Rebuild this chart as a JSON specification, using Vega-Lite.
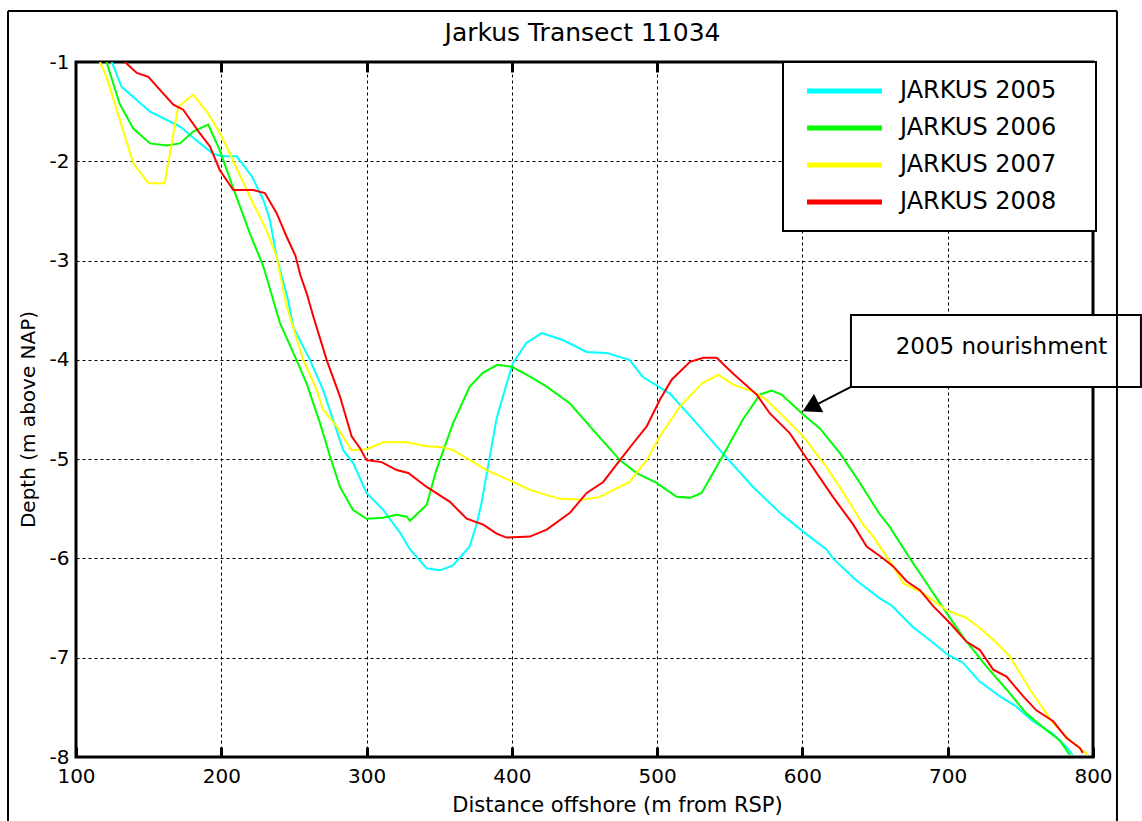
{
  "$schema": "https://vega.github.io/schema/vega-lite/v6.json",
  "width": 1017,
  "height": 695,
  "autosize": {"type": "none"},
  "padding": {"left": 76, "top": 62, "right": 49, "bottom": 64},
  "background": "white",
  "config": {
    "font": "DejaVu Sans",
    "view": {"stroke": "black", "strokeWidth": 3},
    "axis": {
      "labelFont": "DejaVu Sans",
      "titleFont": "DejaVu Sans",
      "labelColor": "black",
      "titleColor": "black",
      "labelFontSize": 20,
      "titleFontSize": 20,
      "titleFontWeight": "normal",
      "gridColor": "black",
      "gridDash": [3, 3],
      "gridOpacity": 1,
      "gridWidth": 1,
      "domain": false
    }
  },
  "datasets": {
    "profiles": [
      {"year": "JARKUS 2005", "x": 124.6, "y": -1.0},
      {"year": "JARKUS 2005", "x": 131.4, "y": -1.25},
      {"year": "JARKUS 2005", "x": 151.0, "y": -1.5},
      {"year": "JARKUS 2005", "x": 171.6, "y": -1.65},
      {"year": "JARKUS 2005", "x": 183.0, "y": -1.79},
      {"year": "JARKUS 2005", "x": 194.0, "y": -1.92},
      {"year": "JARKUS 2005", "x": 200.0, "y": -1.95},
      {"year": "JARKUS 2005", "x": 210.6, "y": -1.95},
      {"year": "JARKUS 2005", "x": 221.0, "y": -2.15},
      {"year": "JARKUS 2005", "x": 229.0, "y": -2.39},
      {"year": "JARKUS 2005", "x": 233.5, "y": -2.59},
      {"year": "JARKUS 2005", "x": 238.0, "y": -2.96},
      {"year": "JARKUS 2005", "x": 246.0, "y": -3.4},
      {"year": "JARKUS 2005", "x": 249.6, "y": -3.67},
      {"year": "JARKUS 2005", "x": 261.0, "y": -4.0},
      {"year": "JARKUS 2005", "x": 270.0, "y": -4.3},
      {"year": "JARKUS 2005", "x": 279.4, "y": -4.71},
      {"year": "JARKUS 2005", "x": 283.9, "y": -4.91},
      {"year": "JARKUS 2005", "x": 290.8, "y": -5.04},
      {"year": "JARKUS 2005", "x": 300.0, "y": -5.34},
      {"year": "JARKUS 2005", "x": 311.4, "y": -5.51},
      {"year": "JARKUS 2005", "x": 323.0, "y": -5.74},
      {"year": "JARKUS 2005", "x": 329.9, "y": -5.91},
      {"year": "JARKUS 2005", "x": 341.4, "y": -6.1},
      {"year": "JARKUS 2005", "x": 350.5, "y": -6.12},
      {"year": "JARKUS 2005", "x": 359.5, "y": -6.07},
      {"year": "JARKUS 2005", "x": 371.0, "y": -5.88},
      {"year": "JARKUS 2005", "x": 375.8, "y": -5.65},
      {"year": "JARKUS 2005", "x": 379.0, "y": -5.45},
      {"year": "JARKUS 2005", "x": 389.5, "y": -4.59},
      {"year": "JARKUS 2005", "x": 396.4, "y": -4.24},
      {"year": "JARKUS 2005", "x": 400.8, "y": -4.03},
      {"year": "JARKUS 2005", "x": 410.0, "y": -3.83},
      {"year": "JARKUS 2005", "x": 420.5, "y": -3.73},
      {"year": "JARKUS 2005", "x": 435.0, "y": -3.8},
      {"year": "JARKUS 2005", "x": 451.5, "y": -3.92},
      {"year": "JARKUS 2005", "x": 465.0, "y": -3.93},
      {"year": "JARKUS 2005", "x": 481.0, "y": -4.0},
      {"year": "JARKUS 2005", "x": 490.0, "y": -4.17},
      {"year": "JARKUS 2005", "x": 508.8, "y": -4.34},
      {"year": "JARKUS 2005", "x": 524.8, "y": -4.6},
      {"year": "JARKUS 2005", "x": 545.0, "y": -4.94},
      {"year": "JARKUS 2005", "x": 566.0, "y": -5.28},
      {"year": "JARKUS 2005", "x": 584.5, "y": -5.54},
      {"year": "JARKUS 2005", "x": 600.5, "y": -5.73},
      {"year": "JARKUS 2005", "x": 616.6, "y": -5.91},
      {"year": "JARKUS 2005", "x": 621.0, "y": -6.0},
      {"year": "JARKUS 2005", "x": 637.0, "y": -6.22},
      {"year": "JARKUS 2005", "x": 653.0, "y": -6.4},
      {"year": "JARKUS 2005", "x": 661.0, "y": -6.47},
      {"year": "JARKUS 2005", "x": 676.0, "y": -6.69},
      {"year": "JARKUS 2005", "x": 690.0, "y": -6.85},
      {"year": "JARKUS 2005", "x": 700.0, "y": -6.97},
      {"year": "JARKUS 2005", "x": 710.5, "y": -7.05},
      {"year": "JARKUS 2005", "x": 722.0, "y": -7.24},
      {"year": "JARKUS 2005", "x": 736.0, "y": -7.39},
      {"year": "JARKUS 2005", "x": 747.0, "y": -7.49},
      {"year": "JARKUS 2005", "x": 758.6, "y": -7.64},
      {"year": "JARKUS 2005", "x": 772.0, "y": -7.76},
      {"year": "JARKUS 2005", "x": 781.8, "y": -7.9},
      {"year": "JARKUS 2005", "x": 786.0, "y": -7.98},

      {"year": "JARKUS 2006", "x": 121.0, "y": -1.0},
      {"year": "JARKUS 2006", "x": 130.0, "y": -1.42},
      {"year": "JARKUS 2006", "x": 139.4, "y": -1.67},
      {"year": "JARKUS 2006", "x": 151.0, "y": -1.82},
      {"year": "JARKUS 2006", "x": 162.4, "y": -1.84},
      {"year": "JARKUS 2006", "x": 171.6, "y": -1.82},
      {"year": "JARKUS 2006", "x": 180.7, "y": -1.7},
      {"year": "JARKUS 2006", "x": 191.0, "y": -1.63},
      {"year": "JARKUS 2006", "x": 199.0, "y": -1.89},
      {"year": "JARKUS 2006", "x": 208.0, "y": -2.26},
      {"year": "JARKUS 2006", "x": 219.8, "y": -2.73},
      {"year": "JARKUS 2006", "x": 229.0, "y": -3.06},
      {"year": "JARKUS 2006", "x": 235.8, "y": -3.4},
      {"year": "JARKUS 2006", "x": 240.4, "y": -3.63},
      {"year": "JARKUS 2006", "x": 249.6, "y": -3.93},
      {"year": "JARKUS 2006", "x": 258.8, "y": -4.24},
      {"year": "JARKUS 2006", "x": 268.0, "y": -4.64},
      {"year": "JARKUS 2006", "x": 274.8, "y": -4.97},
      {"year": "JARKUS 2006", "x": 281.7, "y": -5.28},
      {"year": "JARKUS 2006", "x": 290.6, "y": -5.51},
      {"year": "JARKUS 2006", "x": 300.0, "y": -5.6},
      {"year": "JARKUS 2006", "x": 311.4, "y": -5.59},
      {"year": "JARKUS 2006", "x": 320.7, "y": -5.56},
      {"year": "JARKUS 2006", "x": 327.6, "y": -5.58},
      {"year": "JARKUS 2006", "x": 329.9, "y": -5.62},
      {"year": "JARKUS 2006", "x": 341.4, "y": -5.46},
      {"year": "JARKUS 2006", "x": 348.0, "y": -5.11},
      {"year": "JARKUS 2006", "x": 359.5, "y": -4.64},
      {"year": "JARKUS 2006", "x": 371.0, "y": -4.27},
      {"year": "JARKUS 2006", "x": 380.0, "y": -4.13},
      {"year": "JARKUS 2006", "x": 390.0, "y": -4.05},
      {"year": "JARKUS 2006", "x": 400.0, "y": -4.07},
      {"year": "JARKUS 2006", "x": 412.5, "y": -4.17},
      {"year": "JARKUS 2006", "x": 424.0, "y": -4.27},
      {"year": "JARKUS 2006", "x": 440.0, "y": -4.44},
      {"year": "JARKUS 2006", "x": 458.0, "y": -4.74},
      {"year": "JARKUS 2006", "x": 474.4, "y": -5.01},
      {"year": "JARKUS 2006", "x": 485.9, "y": -5.14},
      {"year": "JARKUS 2006", "x": 499.6, "y": -5.24},
      {"year": "JARKUS 2006", "x": 513.4, "y": -5.38},
      {"year": "JARKUS 2006", "x": 522.6, "y": -5.39},
      {"year": "JARKUS 2006", "x": 530.6, "y": -5.34},
      {"year": "JARKUS 2006", "x": 545.4, "y": -4.96},
      {"year": "JARKUS 2006", "x": 559.0, "y": -4.6},
      {"year": "JARKUS 2006", "x": 570.7, "y": -4.35},
      {"year": "JARKUS 2006", "x": 578.8, "y": -4.31},
      {"year": "JARKUS 2006", "x": 585.7, "y": -4.35},
      {"year": "JARKUS 2006", "x": 600.5, "y": -4.55},
      {"year": "JARKUS 2006", "x": 612.0, "y": -4.69},
      {"year": "JARKUS 2006", "x": 625.8, "y": -4.94},
      {"year": "JARKUS 2006", "x": 639.6, "y": -5.24},
      {"year": "JARKUS 2006", "x": 653.0, "y": -5.55},
      {"year": "JARKUS 2006", "x": 660.0, "y": -5.68},
      {"year": "JARKUS 2006", "x": 674.0, "y": -6.0},
      {"year": "JARKUS 2006", "x": 685.5, "y": -6.25},
      {"year": "JARKUS 2006", "x": 694.6, "y": -6.45},
      {"year": "JARKUS 2006", "x": 710.5, "y": -6.79},
      {"year": "JARKUS 2006", "x": 726.7, "y": -7.09},
      {"year": "JARKUS 2006", "x": 740.5, "y": -7.32},
      {"year": "JARKUS 2006", "x": 754.0, "y": -7.56},
      {"year": "JARKUS 2006", "x": 768.0, "y": -7.73},
      {"year": "JARKUS 2006", "x": 777.0, "y": -7.83},
      {"year": "JARKUS 2006", "x": 784.0, "y": -7.98},

      {"year": "JARKUS 2007", "x": 116.5, "y": -1.0},
      {"year": "JARKUS 2007", "x": 121.0, "y": -1.15},
      {"year": "JARKUS 2007", "x": 128.0, "y": -1.48},
      {"year": "JARKUS 2007", "x": 139.4, "y": -2.02},
      {"year": "JARKUS 2007", "x": 149.8, "y": -2.22},
      {"year": "JARKUS 2007", "x": 161.0, "y": -2.22},
      {"year": "JARKUS 2007", "x": 170.4, "y": -1.45},
      {"year": "JARKUS 2007", "x": 180.7, "y": -1.33},
      {"year": "JARKUS 2007", "x": 191.0, "y": -1.52},
      {"year": "JARKUS 2007", "x": 200.0, "y": -1.74},
      {"year": "JARKUS 2007", "x": 208.0, "y": -1.99},
      {"year": "JARKUS 2007", "x": 219.8, "y": -2.36},
      {"year": "JARKUS 2007", "x": 231.0, "y": -2.69},
      {"year": "JARKUS 2007", "x": 238.0, "y": -2.96},
      {"year": "JARKUS 2007", "x": 245.0, "y": -3.46},
      {"year": "JARKUS 2007", "x": 256.4, "y": -4.0},
      {"year": "JARKUS 2007", "x": 265.6, "y": -4.3},
      {"year": "JARKUS 2007", "x": 270.0, "y": -4.5},
      {"year": "JARKUS 2007", "x": 279.4, "y": -4.67},
      {"year": "JARKUS 2007", "x": 289.7, "y": -4.91},
      {"year": "JARKUS 2007", "x": 300.0, "y": -4.9},
      {"year": "JARKUS 2007", "x": 311.5, "y": -4.83},
      {"year": "JARKUS 2007", "x": 327.5, "y": -4.83},
      {"year": "JARKUS 2007", "x": 341.4, "y": -4.87},
      {"year": "JARKUS 2007", "x": 352.8, "y": -4.88},
      {"year": "JARKUS 2007", "x": 359.7, "y": -4.91},
      {"year": "JARKUS 2007", "x": 382.6, "y": -5.11},
      {"year": "JARKUS 2007", "x": 401.0, "y": -5.23},
      {"year": "JARKUS 2007", "x": 412.4, "y": -5.31},
      {"year": "JARKUS 2007", "x": 433.0, "y": -5.4},
      {"year": "JARKUS 2007", "x": 449.0, "y": -5.41},
      {"year": "JARKUS 2007", "x": 460.6, "y": -5.38},
      {"year": "JARKUS 2007", "x": 481.0, "y": -5.23},
      {"year": "JARKUS 2007", "x": 492.8, "y": -5.01},
      {"year": "JARKUS 2007", "x": 502.0, "y": -4.77},
      {"year": "JARKUS 2007", "x": 515.7, "y": -4.47},
      {"year": "JARKUS 2007", "x": 530.6, "y": -4.24},
      {"year": "JARKUS 2007", "x": 542.0, "y": -4.15},
      {"year": "JARKUS 2007", "x": 552.4, "y": -4.25},
      {"year": "JARKUS 2007", "x": 566.0, "y": -4.32},
      {"year": "JARKUS 2007", "x": 575.0, "y": -4.4},
      {"year": "JARKUS 2007", "x": 589.0, "y": -4.6},
      {"year": "JARKUS 2007", "x": 600.5, "y": -4.77},
      {"year": "JARKUS 2007", "x": 616.6, "y": -5.08},
      {"year": "JARKUS 2007", "x": 630.0, "y": -5.38},
      {"year": "JARKUS 2007", "x": 641.8, "y": -5.66},
      {"year": "JARKUS 2007", "x": 648.7, "y": -5.78},
      {"year": "JARKUS 2007", "x": 662.5, "y": -6.08},
      {"year": "JARKUS 2007", "x": 669.4, "y": -6.25},
      {"year": "JARKUS 2007", "x": 683.0, "y": -6.35},
      {"year": "JARKUS 2007", "x": 699.0, "y": -6.52},
      {"year": "JARKUS 2007", "x": 713.0, "y": -6.6},
      {"year": "JARKUS 2007", "x": 722.0, "y": -6.7},
      {"year": "JARKUS 2007", "x": 733.6, "y": -6.85},
      {"year": "JARKUS 2007", "x": 742.8, "y": -6.99},
      {"year": "JARKUS 2007", "x": 756.6, "y": -7.32},
      {"year": "JARKUS 2007", "x": 772.6, "y": -7.66},
      {"year": "JARKUS 2007", "x": 784.0, "y": -7.83},
      {"year": "JARKUS 2007", "x": 796.6, "y": -7.98},

      {"year": "JARKUS 2008", "x": 133.7, "y": -1.0},
      {"year": "JARKUS 2008", "x": 141.8, "y": -1.11},
      {"year": "JARKUS 2008", "x": 149.8, "y": -1.15},
      {"year": "JARKUS 2008", "x": 157.8, "y": -1.28},
      {"year": "JARKUS 2008", "x": 167.0, "y": -1.43},
      {"year": "JARKUS 2008", "x": 173.8, "y": -1.48},
      {"year": "JARKUS 2008", "x": 185.3, "y": -1.72},
      {"year": "JARKUS 2008", "x": 192.2, "y": -1.85},
      {"year": "JARKUS 2008", "x": 199.0, "y": -2.09},
      {"year": "JARKUS 2008", "x": 208.3, "y": -2.29},
      {"year": "JARKUS 2008", "x": 222.0, "y": -2.29},
      {"year": "JARKUS 2008", "x": 230.0, "y": -2.32},
      {"year": "JARKUS 2008", "x": 238.0, "y": -2.52},
      {"year": "JARKUS 2008", "x": 245.0, "y": -2.76},
      {"year": "JARKUS 2008", "x": 251.0, "y": -2.95},
      {"year": "JARKUS 2008", "x": 254.5, "y": -3.15},
      {"year": "JARKUS 2008", "x": 258.8, "y": -3.33},
      {"year": "JARKUS 2008", "x": 263.3, "y": -3.56},
      {"year": "JARKUS 2008", "x": 272.5, "y": -4.0},
      {"year": "JARKUS 2008", "x": 281.7, "y": -4.37},
      {"year": "JARKUS 2008", "x": 289.7, "y": -4.77},
      {"year": "JARKUS 2008", "x": 295.5, "y": -4.89},
      {"year": "JARKUS 2008", "x": 300.0, "y": -5.01},
      {"year": "JARKUS 2008", "x": 310.4, "y": -5.03},
      {"year": "JARKUS 2008", "x": 320.7, "y": -5.11},
      {"year": "JARKUS 2008", "x": 328.7, "y": -5.14},
      {"year": "JARKUS 2008", "x": 341.4, "y": -5.28},
      {"year": "JARKUS 2008", "x": 357.4, "y": -5.43},
      {"year": "JARKUS 2008", "x": 368.9, "y": -5.6},
      {"year": "JARKUS 2008", "x": 380.3, "y": -5.66},
      {"year": "JARKUS 2008", "x": 389.5, "y": -5.75},
      {"year": "JARKUS 2008", "x": 396.4, "y": -5.79},
      {"year": "JARKUS 2008", "x": 412.4, "y": -5.78},
      {"year": "JARKUS 2008", "x": 424.0, "y": -5.71},
      {"year": "JARKUS 2008", "x": 440.0, "y": -5.54},
      {"year": "JARKUS 2008", "x": 451.5, "y": -5.34},
      {"year": "JARKUS 2008", "x": 462.9, "y": -5.23},
      {"year": "JARKUS 2008", "x": 474.4, "y": -5.01},
      {"year": "JARKUS 2008", "x": 483.5, "y": -4.84},
      {"year": "JARKUS 2008", "x": 492.8, "y": -4.67},
      {"year": "JARKUS 2008", "x": 502.0, "y": -4.4},
      {"year": "JARKUS 2008", "x": 510.0, "y": -4.2},
      {"year": "JARKUS 2008", "x": 522.6, "y": -4.02},
      {"year": "JARKUS 2008", "x": 531.7, "y": -3.98},
      {"year": "JARKUS 2008", "x": 541.0, "y": -3.98},
      {"year": "JARKUS 2008", "x": 552.4, "y": -4.14},
      {"year": "JARKUS 2008", "x": 568.5, "y": -4.35},
      {"year": "JARKUS 2008", "x": 577.6, "y": -4.54},
      {"year": "JARKUS 2008", "x": 591.4, "y": -4.74},
      {"year": "JARKUS 2008", "x": 600.5, "y": -4.94},
      {"year": "JARKUS 2008", "x": 621.0, "y": -5.38},
      {"year": "JARKUS 2008", "x": 635.0, "y": -5.66},
      {"year": "JARKUS 2008", "x": 644.2, "y": -5.88},
      {"year": "JARKUS 2008", "x": 655.6, "y": -6.0},
      {"year": "JARKUS 2008", "x": 662.5, "y": -6.08},
      {"year": "JARKUS 2008", "x": 671.7, "y": -6.23},
      {"year": "JARKUS 2008", "x": 680.9, "y": -6.32},
      {"year": "JARKUS 2008", "x": 690.0, "y": -6.48},
      {"year": "JARKUS 2008", "x": 701.5, "y": -6.65},
      {"year": "JARKUS 2008", "x": 713.0, "y": -6.84},
      {"year": "JARKUS 2008", "x": 722.0, "y": -6.92},
      {"year": "JARKUS 2008", "x": 731.3, "y": -7.12},
      {"year": "JARKUS 2008", "x": 740.5, "y": -7.19},
      {"year": "JARKUS 2008", "x": 752.0, "y": -7.39},
      {"year": "JARKUS 2008", "x": 761.0, "y": -7.53},
      {"year": "JARKUS 2008", "x": 772.6, "y": -7.64},
      {"year": "JARKUS 2008", "x": 781.8, "y": -7.81},
      {"year": "JARKUS 2008", "x": 791.0, "y": -7.91},
      {"year": "JARKUS 2008", "x": 793.0, "y": -7.96}
    ]
  },
  "layer": [
    {
      "data": {"name": "profiles"},
      "mark": {"type": "line", "strokeWidth": 2, "clip": true},
      "encoding": {
        "x": {
          "field": "x",
          "type": "quantitative",
          "scale": {"domain": [100, 800], "nice": false, "zero": false},
          "axis": {
            "orient": "bottom",
            "values": [100, 200, 300, 400, 500, 600, 700, 800],
            "format": "d",
            "grid": true,
            "ticks": true,
            "offset": -10,
            "tickSize": 10,
            "tickWidth": 3,
            "tickColor": "black",
            "labelPadding": 9,
            "labelFlush": false,
            "title": "Distance offshore (m from RSP)",
            "titleFontSize": 21,
            "titleX": 541,
            "titleY": 58,
            "titleBaseline": "middle"
          }
        },
        "y": {
          "field": "y",
          "type": "quantitative",
          "scale": {"domain": [-8, -1], "nice": false, "zero": false},
          "axis": {
            "values": [-8, -7, -6, -5, -4, -3, -2, -1],
            "labelExpr": "'-' + abs(datum.value)",
            "grid": true,
            "ticks": false,
            "labelPadding": 7,
            "labelFlush": false,
            "title": "Depth (m above NAP)",
            "titleX": -48,
            "titleY": 357,
            "titleBaseline": "middle"
          }
        },
        "color": {
          "field": "year",
          "type": "nominal",
          "scale": {
            "domain": ["JARKUS 2005", "JARKUS 2006", "JARKUS 2007", "JARKUS 2008"],
            "range": ["#00FFFF", "#00FF00", "#FFFF00", "#FF0000"]
          },
          "legend": {
            "orient": "none",
            "legendX": 707,
            "legendY": 0,
            "title": null,
            "symbolType": "M-1,0H14M51.4,0",
            "symbolSize": 100,
            "symbolStrokeWidth": 5,
            "labelFontSize": 24,
            "labelFont": "DejaVu Sans",
            "labelColor": "black",
            "labelOffset": 76,
            "labelLimit": 400,
            "padding": 17,
            "rowPadding": 13,
            "strokeColor": "black",
            "fillColor": "white",
            "encode": {
              "legend": {"update": {"strokeWidth": {"value": 2}}}
            }
          }
        }
      }
    },
    {
      "data": {"values": [{}]},
      "mark": {"type": "rect", "fill": "white", "stroke": "black", "strokeWidth": 2, "clip": false},
      "encoding": {
        "x": {"datum": 633.4, "type": "quantitative", "scale": {"domain": [100, 800], "nice": false, "zero": false}, "axis": null},
        "x2": {"datum": 833.0},
        "y": {"datum": -3.548, "type": "quantitative", "scale": {"domain": [-8, -1], "nice": false, "zero": false}, "axis": null},
        "y2": {"datum": -4.273}
      }
    },
    {
      "data": {"values": [{}]},
      "mark": {"type": "text", "fontSize": 23, "font": "DejaVu Sans", "color": "black", "align": "center", "baseline": "middle", "clip": false},
      "encoding": {
        "x": {
          "datum": 737,
          "type": "quantitative",
          "scale": {"domain": [100, 800], "nice": false, "zero": false},
          "axis": {
            "orient": "top",
            "values": [200, 300, 400, 500, 600, 700],
            "labels": false,
            "grid": false,
            "ticks": true,
            "offset": -10,
            "tickSize": 10,
            "tickWidth": 3,
            "tickColor": "black",
            "title": "Jarkus Transect 11034",
            "titleFontSize": 25,
            "titleFontWeight": "normal",
            "titleX": 506,
            "titleY": -32,
            "titleAlign": "center",
            "titleAngle": 0,
            "titleBaseline": "alphabetic"
          }
        },
        "y": {"datum": -3.87, "type": "quantitative", "scale": {"domain": [-8, -1], "nice": false, "zero": false}, "axis": null},
        "text": {"value": "2005 nourishment"}
      }
    },
    {
      "data": {"values": [{}]},
      "mark": {"type": "rule", "color": "black", "strokeWidth": 2, "clip": false},
      "encoding": {
        "x": {"datum": 633.4, "type": "quantitative", "scale": {"domain": [100, 800], "nice": false, "zero": false}, "axis": null},
        "x2": {"datum": 607.0},
        "y": {"datum": -4.273, "type": "quantitative", "scale": {"domain": [-8, -1], "nice": false, "zero": false}, "axis": null},
        "y2": {"datum": -4.47}
      }
    },
    {
      "data": {"values": [{}]},
      "mark": {"type": "point", "shape": "triangle-up", "filled": true, "color": "black", "opacity": 1, "size": 420, "angle": 243, "clip": false},
      "encoding": {
        "x": {"datum": 605.7, "type": "quantitative", "scale": {"domain": [100, 800], "nice": false, "zero": false}, "axis": null},
        "y": {"datum": -4.476, "type": "quantitative", "scale": {"domain": [-8, -1], "nice": false, "zero": false}, "axis": null}
      }
    },
    {
      "data": {"values": [{}]},
      "mark": {"type": "rule", "color": "black", "strokeWidth": 2, "clip": false},
      "encoding": {
        "x": {"datum": 53.2, "type": "quantitative", "scale": {"domain": [100, 800], "nice": false, "zero": false}, "axis": null},
        "x2": {"datum": 816.5},
        "y": {"datum": -0.486, "type": "quantitative", "scale": {"domain": [-8, -1], "nice": false, "zero": false}, "axis": null}
      }
    },
    {
      "data": {"values": [{}]},
      "mark": {"type": "rule", "color": "black", "strokeWidth": 2, "clip": false},
      "encoding": {
        "x": {"datum": 53.2, "type": "quantitative", "scale": {"domain": [100, 800], "nice": false, "zero": false}, "axis": null},
        "y": {"datum": -0.486, "type": "quantitative", "scale": {"domain": [-8, -1], "nice": false, "zero": false}, "axis": null},
        "y2": {"datum": -9.5}
      }
    },
    {
      "data": {"values": [{}]},
      "mark": {"type": "rule", "color": "black", "strokeWidth": 2, "clip": false},
      "encoding": {
        "x": {"datum": 816.5, "type": "quantitative", "scale": {"domain": [100, 800], "nice": false, "zero": false}, "axis": null},
        "y": {"datum": -0.486, "type": "quantitative", "scale": {"domain": [-8, -1], "nice": false, "zero": false}, "axis": null},
        "y2": {"datum": -9.5}
      }
    }
  ],
  "resolve": {"axis": {"x": "independent", "y": "independent"}}
}
